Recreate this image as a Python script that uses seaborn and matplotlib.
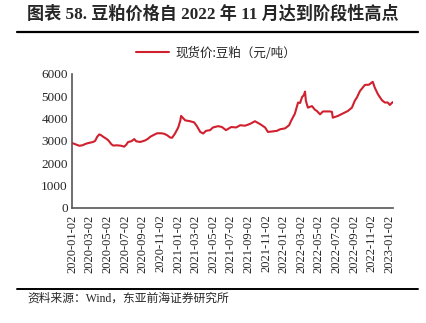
import matplotlib
matplotlib.use("Agg")
import matplotlib.pyplot as plt
import seaborn as sns
import pandas as pd
from matplotlib.lines import Line2D

dates = [
    "2020-01-02", "2020-01-16", "2020-01-26", "2020-02-06", "2020-02-16", "2020-02-26",
    "2020-03-04", "2020-03-14", "2020-03-21", "2020-03-28", "2020-04-04", "2020-04-11",
    "2020-04-18", "2020-04-28", "2020-05-05", "2020-05-16", "2020-05-22", "2020-06-05",
    "2020-06-19", "2020-06-29", "2020-07-06", "2020-07-13", "2020-07-24", "2020-08-03",
    "2020-08-10", "2020-08-24", "2020-09-10", "2020-09-20", "2020-09-27", "2020-10-07",
    "2020-10-21", "2020-11-04", "2020-11-14", "2020-11-25", "2020-12-05", "2020-12-12",
    "2020-12-22", "2021-01-02", "2021-01-09", "2021-01-12", "2021-01-26", "2021-02-12",
    "2021-02-26", "2021-03-08", "2021-03-19", "2021-03-29", "2021-04-08", "2021-04-22",
    "2021-05-02", "2021-05-20", "2021-06-02", "2021-06-16", "2021-07-04", "2021-07-21",
    "2021-08-04", "2021-08-21", "2021-09-07", "2021-09-24", "2021-10-12", "2021-10-29",
    "2021-11-08", "2021-11-22", "2021-12-09", "2021-12-20", "2022-01-06", "2022-01-20",
    "2022-01-27", "2022-02-09", "2022-02-20", "2022-02-27", "2022-03-06", "2022-03-12",
    "2022-03-16", "2022-03-19", "2022-03-26", "2022-04-09", "2022-04-19", "2022-04-26",
    "2022-05-07", "2022-05-17", "2022-06-10", "2022-06-17", "2022-06-20", "2022-07-08",
    "2022-07-25", "2022-08-11", "2022-08-25", "2022-09-04", "2022-09-11", "2022-09-22",
    "2022-10-02", "2022-10-09", "2022-10-23", "2022-11-05", "2022-11-12", "2022-11-23",
    "2022-12-07", "2022-12-17", "2022-12-27", "2023-01-03", "2023-01-13",
]
prices = [
    2900, 2830, 2780, 2800, 2860, 2900,
    2920, 2950, 3000, 3180, 3290, 3250,
    3180, 3100, 3030, 2850, 2790, 2800,
    2780, 2740, 2820, 2950, 2980, 3080,
    2980, 2950, 3020, 3100, 3180, 3250,
    3340, 3340, 3320, 3250, 3150, 3140,
    3330, 3600, 3900, 4120, 3920, 3880,
    3830, 3650, 3400, 3330, 3450, 3480,
    3600, 3660, 3620, 3480, 3620, 3600,
    3700, 3680, 3760, 3880, 3750, 3600,
    3400, 3420, 3450, 3520, 3560, 3700,
    3900, 4220, 4720, 4700, 4970, 5050,
    5210, 4800, 4490, 4560, 4400, 4340,
    4190, 4320, 4320, 4300, 4040, 4120,
    4230, 4340, 4490, 4800, 4940, 5240,
    5400, 5510, 5520, 5650, 5390, 5090,
    4820, 4720, 4720, 4610, 4740,
]
xtick_dates = [
    "2020-01-02", "2020-03-02", "2020-05-02", "2020-07-02", "2020-09-02", "2020-11-02",
    "2021-01-02", "2021-03-02", "2021-05-02", "2021-07-02", "2021-09-02", "2021-11-02",
    "2022-01-02", "2022-03-02", "2022-05-02", "2022-07-02", "2022-09-02", "2022-11-02",
    "2023-01-02",
]
yticks = [0, 1000, 2000, 3000, 4000, 5000, 6000]
series_name = "现货价:豆粕（元/吨）"
title = "图表 58. 豆粕价格自 2022 年 11 月达到阶段性高点"
source = "资料来源：Wind，东亚前海证券研究所"

sns.set_style("white")
plt.rcParams["font.family"] = ["Liberation Serif", "Noto Sans CJK SC"]

df = pd.DataFrame({"date": pd.to_datetime(dates), "price": prices})

fig = plt.figure(figsize=(4.26, 3.23), dpi=100)
W, H = 426, 323
ax = fig.add_axes([72 / W, 1 - 207.7 / H, (393 - 72) / W, (207.7 - 74) / H])

red = "#D0202E"
sns.lineplot(data=df, x="date", y="price", ax=ax, color=red, linewidth=1.5, legend=False)

ax.set_xlim(pd.Timestamp("2020-01-01"), pd.Timestamp("2023-01-14"))
ax.set_ylim(0, 6000)
ax.set_yticks(yticks)
ax.set_yticklabels([str(v) for v in yticks], fontsize=9.5)
xt = pd.to_datetime(xtick_dates)
ax.set_xticks(xt)
ax.set_xticklabels(xtick_dates, rotation=90, fontsize=9)
ax.set_xlabel("")
ax.set_ylabel("")
ax.tick_params(axis="y", direction="in", length=4, width=1, color="#555555", pad=3)
ax.tick_params(axis="x", length=0, pad=5)
for s in ["top", "right"]:
    ax.spines[s].set_visible(False)
for s in ["left", "bottom"]:
    ax.spines[s].set_color("#555555")
    ax.spines[s].set_linewidth(1.2)

handle = Line2D([0], [0], color=red, linewidth=1.5)
ax.legend([handle], [series_name], loc="center", bbox_to_anchor=(216 / W, 1 - 53 / H),
          bbox_transform=fig.transFigure, frameon=False,
          handlelength=2.6, handletextpad=0.5,
          prop={"family": ["Noto Sans CJK SC"], "size": 9})

fig.text(27 / W, 1 - 14 / H, title, fontsize=12.3, fontweight="bold", va="center", ha="left",
         family=["Liberation Serif", "Noto Sans CJK SC"])
fig.add_artist(Line2D([17 / W, 418 / W], [1 - 31.5 / H, 1 - 31.5 / H], color="black", linewidth=1.6))
fig.add_artist(Line2D([17 / W, 418 / W], [1 - 288.5 / H, 1 - 288.5 / H], color="black", linewidth=1.4))
fig.text(27 / W, 1 - 299 / H, source, fontsize=8.5, va="center", ha="left",
         family=["Liberation Serif", "Noto Sans CJK SC"])

fig.savefig("out.png", dpi=100)
